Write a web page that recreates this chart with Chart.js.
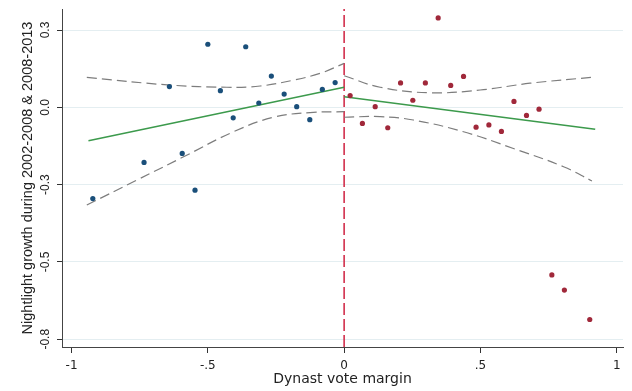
<!DOCTYPE html>
<html>
<head>
<meta charset="utf-8">
<script src="https://cdn.jsdelivr.net/npm/chart.js@4/dist/chart.umd.min.js"></script>
<style>
html, body { margin: 0; padding: 0; background: #fff; }
</style>
</head>
<body>
<canvas id="rdchart" width="632" height="391"></canvas>
<script>
'use strict';

// Binned means, left of cutoff (non-dynast wins) and right of it
var leftX = [-0.922, -0.734, -0.641, -0.594, -0.547, -0.500, -0.454, -0.407, -0.361, -0.313, -0.267, -0.220, -0.174, -0.126, -0.080, -0.033];
var leftY = [-0.295, -0.178, 0.067, -0.149, -0.268, 0.204, 0.054, -0.034, 0.196, 0.014, 0.101, 0.043, 0.002, -0.040, 0.058, 0.080];
var rightX = [0.022, 0.067, 0.114, 0.160, 0.207, 0.252, 0.298, 0.345, 0.391, 0.438, 0.484, 0.531, 0.577, 0.623, 0.669, 0.715, 0.762, 0.808, 0.901];
var rightY = [0.038, -0.052, 0.002, -0.066, 0.079, 0.023, 0.079, 0.289, 0.071, 0.100, -0.064, -0.057, -0.078, 0.019, -0.026, -0.006, -0.542, -0.591, -0.686];

// Linear fits
var leftFitX = [-0.938, 0];
var leftFitY = [-0.108, 0.065];
var rightFitX = [0, 0.921];
var rightFitY = [0.034, -0.071];

// 95% confidence bands
var leftUpX = [-0.944, -0.638, -0.430, -0.308, -0.186, -0.088, 0];
var leftUpY = [0.097, 0.072, 0.065, 0.069, 0.088, 0.110, 0.142];
var leftLoX = [-0.944, -0.760, -0.589, -0.406, -0.259, -0.125, 0];
var leftLoY = [-0.316, -0.235, -0.160, -0.079, -0.032, -0.017, -0.014];
var rightUpX = [0, 0.132, 0.315, 0.499, 0.682, 0.921];
var rightUpY = [0.102, 0.065, 0.047, 0.056, 0.078, 0.098];
var rightLoX = [0, 0.132, 0.254, 0.438, 0.621, 0.805, 0.909];
var rightLoY = [-0.032, -0.030, -0.041, -0.079, -0.133, -0.192, -0.238];

var cutoff = 0;

// Axes
var xTickValues = [-1, -0.5, 0, 0.5, 1];
var xTickLabels = ['-1', '-.5', '0', '.5', '1'];
var yTickValues = [-0.75, -0.5, -0.25, 0, 0.25];
var yTickLabels = ['-0.8', '-0.5', '-0.3', '0.0', '0.3'];
var xMin = -1.035, xMax = 1.023;
var yMin = -0.775, yMax = 0.318;

function pts(xs, ys) {
	return xs.map(function (x, i) { return {x: x, y: ys[i]}; });
}

var green = '#3c9a4c';
var grey = '#7d7d7d';
var dash = [10, 5];

function band(xs, ys) {
	return {
		data: pts(xs, ys), showLine: true, pointRadius: 0,
		borderColor: grey, borderWidth: 1.2, borderDash: dash,
		tension: 0.4, fill: false, order: 2
	};
}

function fit(xs, ys) {
	return {
		data: pts(xs, ys), showLine: true, pointRadius: 0,
		borderColor: green, borderWidth: 1.5, fill: false, order: 1
	};
}

var ctx = document.getElementById('rdchart');

var rdChart = new Chart(ctx, {
	type: 'scatter',
	data: {
		datasets: [{
			data: pts(leftX, leftY),
			pointRadius: 2.6, pointBorderWidth: 0,
			backgroundColor: '#1a4f7a', order: 0
		}, {
			data: pts(rightX, rightY),
			pointRadius: 2.6, pointBorderWidth: 0,
			backgroundColor: '#a0283a', order: 0
		},
		fit(leftFitX, leftFitY),
		fit(rightFitX, rightFitY),
		band(leftUpX, leftUpY),
		band(leftLoX, leftLoY),
		band(rightUpX, rightUpY),
		band(rightLoX, rightLoY),
		{
			data: [{x: cutoff, y: yMin}, {x: cutoff, y: yMax}],
			showLine: true, pointRadius: 0,
			borderColor: '#d22f4c', borderWidth: 1.6, borderDash: [12, 4],
			order: 3
		}]
	},
	options: {
		responsive: false,
		animation: false,
		layout: { padding: { top: 9, right: 9, left: 0, bottom: 0 } },
		plugins: { legend: { display: false }, tooltip: { enabled: false } },
		scales: {
			x: {
				type: 'linear', position: 'bottom',
				min: xMin, max: xMax,
				afterBuildTicks: function (s) { s.ticks = xTickValues.map(function (v) { return {value: v}; }); },
				afterFit: function (s) { s.height = 44; },
				grid: { drawOnChartArea: false, tickLength: 6, tickColor: '#333', tickWidth: 1 },
				border: { color: '#444', width: 1 },
				ticks: {
					autoSkip: false, maxRotation: 0, padding: 6,
					color: '#222', font: { family: 'DejaVu Sans', size: 12 },
					callback: function (v) { return xTickLabels[xTickValues.indexOf(v)]; }
				},
				title: {
					display: true, text: 'Dynast vote margin', color: '#222',
					font: { family: 'DejaVu Sans', size: 14 },
					padding: { top: 0, bottom: 3 }
				}
			},
			y: {
				type: 'linear', position: 'left',
				min: yMin, max: yMax,
				afterBuildTicks: function (s) { s.ticks = yTickValues.map(function (v) { return {value: v}; }); },
				afterFit: function (s) { s.width = 62; },
				grid: { color: '#e4eef1', lineWidth: 1, tickLength: 5, tickColor: '#333' },
				border: { color: '#444', width: 1 },
				ticks: {
					autoSkip: false, minRotation: 90, maxRotation: 90, crossAlign: 'center', padding: 1,
					color: '#222', font: { family: 'Liberation Sans', size: 12 },
					callback: function (v) { return yTickLabels[yTickValues.indexOf(v)]; }
				},
				title: {
					display: true, text: 'Nightlight growth during 2002-2008 & 2008-2013', color: '#222',
					font: { family: 'Liberation Sans', size: 14.5 },
					padding: { top: 19, bottom: 0 }
				}
			}
		}
	}
});
</script>
</body>
</html>
